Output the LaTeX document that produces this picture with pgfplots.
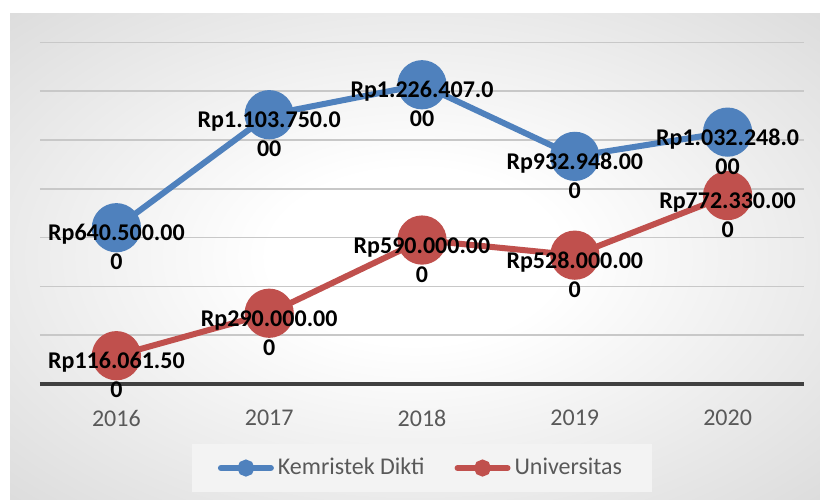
\documentclass[border=0pt]{standalone}
\usepackage{fontspec}
\setmainfont{Carlito}
\usepackage{pgfplots}
\pgfplotsset{compat=1.18}
\definecolor{kblue}{HTML}{4F81BD}
\definecolor{ured}{HTML}{C0504D}
\definecolor{tgray}{HTML}{595959}
\definecolor{axgray}{HTML}{404040}
\definecolor{gridc}{HTML}{C8C8C8}
\definecolor{bgedge}{HTML}{CACACA}
\definecolor{bgcorner}{HTML}{B8B8B8}
\definecolor{legfill}{HTML}{F3F3F3}
\pgfdeclareradialshading{chartbg}{\pgfpoint{0bp}{0bp}}{color(0bp)=(white); color(9bp)=(white); color(50bp)=(bgedge); color(71bp)=(bgcorner)}
\begin{document}
\begin{tikzpicture}
\path[use as bounding box, fill=white] (0,0) rectangle (410pt,249.5pt);
\shade[shading=chartbg] (5pt,0) rectangle (410pt,242.5pt);
\begin{axis}[
  at={(20pt,57.5pt)}, anchor=south west,
  scale only axis, width=382pt, height=170.8pt,
  xmin=-0.5, xmax=4.5, ymin=0, ymax=1400000,
  xtick={0,...,4}, xticklabels={2016,2017,2018,2019,2020},
  ytick={0,200000,...,1400000}, yticklabels={}, scaled y ticks=false,
  ymajorgrids, grid style={gridc, line width=0.75pt},
  major tick length=0pt,
  axis x line*=bottom, axis y line*=left,
  y axis line style={draw=none},
  x axis line style={axgray, line width=1.75pt},
  xticklabel style={font=\fontsize{12}{14}\selectfont, text=tgray, anchor=north, inner sep=0pt, yshift=-13pt},
  clip=false,
  legend columns=2,
  legend cell align=left,
  legend style={at={(0.5,-0.246)}, anchor=center, draw=none, fill=legfill,
    inner xsep=13pt, inner ysep=7pt,
    font=\fontsize{12}{14}\selectfont, text=tgray,
    nodes={inner xsep=2pt, inner ysep=0pt},
    /tikz/every even column/.append style={column sep=13pt}},
]
\addplot[kblue, line width=3pt, mark=*, mark size=10.8pt, mark options={solid},
  legend image code/.code={\draw[kblue, line width=3pt, line cap=round] (1.5pt,0) -- (26.5pt,0); \fill[kblue] (14pt,0) circle (2.7pt);}]
  coordinates {(0,640500) (1,1103750) (2,1226407) (3,932948) (4,1032248)};
\addlegendentry{Kemristek Dikti}
\addplot[ured, line width=3pt, mark=*, mark size=10.8pt, mark options={solid},
  legend image code/.code={\draw[ured, line width=3pt, line cap=round] (1.5pt,0) -- (26.5pt,0); \fill[ured] (14pt,0) circle (2.7pt);}]
  coordinates {(0,116061.5) (1,290000) (2,590000) (3,528000) (4,772330)};
\addlegendentry{Universitas}
% data labels, line 1
\addplot[draw=none, mark=none, forget plot, point meta=explicit symbolic,
  nodes near coords, nodes near coords align=center,
  every node near coord/.append style={anchor=base, yshift=-6.6pt, inner sep=0pt, text=black, font=\bfseries\fontsize{12}{14}\selectfont}]
  coordinates {(0,640500) [Rp640.500.00] (1,1103750) [Rp1.103.750.0] (2,1226407) [Rp1.226.407.0] (3,932948) [Rp932.948.00] (4,1032248) [Rp1.032.248.0]
               (0,116061.5) [Rp116.061.50] (1,290000) [Rp290.000.00] (2,590000) [Rp590.000.00] (3,528000) [Rp528.000.00] (4,772330) [Rp772.330.00]};
% data labels, line 2
\addplot[draw=none, mark=none, forget plot, point meta=explicit symbolic,
  nodes near coords, nodes near coords align=center,
  every node near coord/.append style={anchor=base, yshift=-21.1pt, inner sep=0pt, text=black, font=\bfseries\fontsize{12}{14}\selectfont}]
  coordinates {(0,640500) [0] (1,1103750) [00] (2,1226407) [00] (3,932948) [0] (4,1032248) [00]
               (0,116061.5) [0] (1,290000) [0] (2,590000) [0] (3,528000) [0] (4,772330) [0]};
\end{axis}
\end{tikzpicture}
\end{document}
